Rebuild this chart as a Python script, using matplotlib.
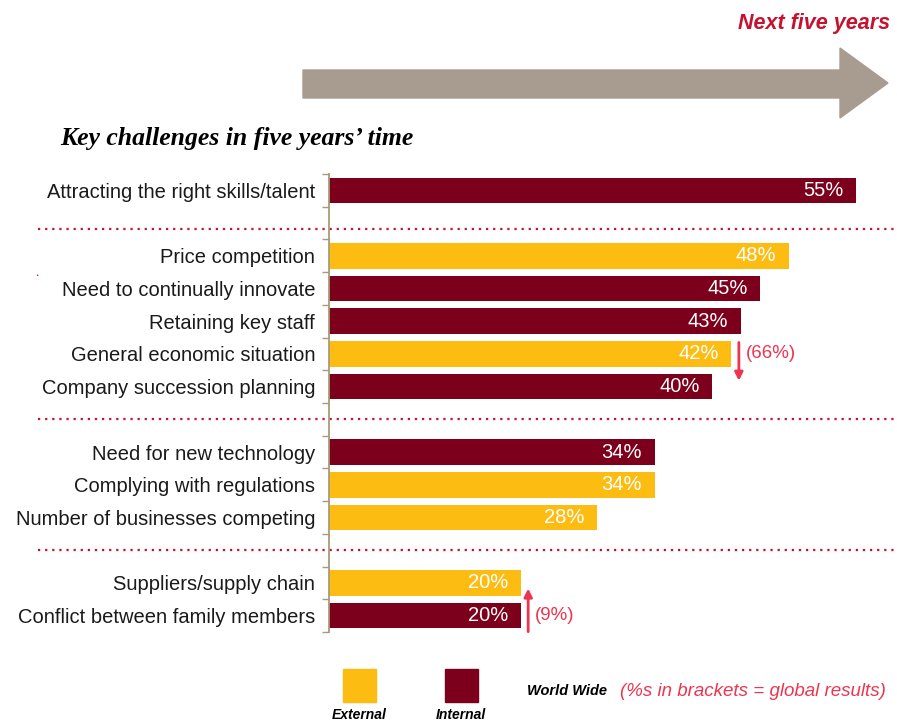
import matplotlib.pyplot as plt
from matplotlib.patches import Polygon, Rectangle

# ======================================================
# DATA
# ======================================================
categories = [
    "Attracting the right skills/talent",
    "Price competition",
    "Need to continually innovate",
    "Retaining key staff",
    "General economic situation",
    "Company succession planning",
    "Need for new technology",
    "Complying with regulations",
    "Number of businesses competing",
    "Suppliers/supply chain",
    "Conflict between family members",
]
values = [55, 48, 45, 43, 42, 40, 34, 34, 28, 20, 20]
kinds = ["Internal", "External", "Internal", "Internal", "External", "Internal",
         "Internal", "External", "External", "External", "Internal"]
group_sizes = [1, 5, 3, 2]

# global results shown in brackets: (row the arrow starts at, row it ends at, label)
global_notes = [
    ("General economic situation", "Company succession planning", "(66%)"),
    ("Conflict between family members", "Suppliers/supply chain", "(9%)"),
]

colors = {"External": "#FDBC12", "Internal": "#7C001B"}
red = "#C4122F"
pink = "#EE3550"

# ======================================================
# ROW POSITIONS (one empty slot between groups)
# ======================================================
positions = []
gaps = []
slot = 0
for g, size in enumerate(group_sizes):
    for i in range(size):
        positions.append(slot)
        slot += 1
    if g < len(group_sizes) - 1:
        gaps.append(slot)
        slot += 1
n_slots = slot
pos_of = dict(zip(categories, positions))

# ======================================================
# FIGURE
# ======================================================
fig = plt.figure(figsize=(8.97, 7.23), dpi=100)
ax = fig.add_axes([329 / 897, 1 - 632 / 723, 565 / 897, 458 / 723])

ax.barh(positions, values, height=0.78,
        color=[colors[k] for k in kinds], zorder=2)

for y, v in zip(positions, values):
    ax.text(v - 1.3, y, f"{v}%", ha="right", va="center",
            color="white", fontsize=14.5, family="Liberation Sans")

ax.set_xlim(0, 59)
ax.set_ylim(n_slots - 0.5, -0.5)

# Labels on the left, small ticks at row boundaries
ax.set_yticks(positions)
ax.set_yticklabels(categories, fontsize=14.5, family="Liberation Sans",
                   color="#1a1a1a")
ax.tick_params(axis="y", which="major", length=0, pad=10)
ax.set_yticks([i - 0.5 for i in range(n_slots + 1)], minor=True)
ax.tick_params(axis="y", which="minor", length=5, width=1, color="#A89A7A")
ax.set_xticks([])

for side in ["top", "right", "bottom"]:
    ax.spines[side].set_visible(False)
ax.spines["left"].set_color("#A89A7A")
ax.spines["left"].set_linewidth(1.3)

# Dotted separators between groups
for g, shift in zip(gaps, [0.17, 0, 0]):
    ax.plot([-30.4, 59], [g + shift, g + shift], color=red, lw=1.6,
            linestyle=(0, (1, 2.2)), clip_on=False, zorder=1)

# Global result arrows
for start, end, label in global_notes:
    y0, y1 = pos_of[start], pos_of[end]
    v = values[categories.index(start)]
    x = v + 0.8
    if y1 > y0:
        ys, ye = y0 - 0.35, y1 - 0.18
    else:
        ys, ye = y0 + 0.49, y1 + 0.17
    ax.annotate("", xy=(x, ye), xytext=(x, ys),
                arrowprops=dict(arrowstyle="-|>", color=pink, lw=2,
                                mutation_scale=12, shrinkA=0, shrinkB=0),
                annotation_clip=False)
    ax.text(x + 0.7, y0, label, ha="left", va="center", color=pink,
            fontsize=13.5, family="Liberation Sans")

# ======================================================
# HEADER
# ======================================================
W, H = 897, 723
arrow_pts = [(303, 70), (840, 70), (840, 48), (888, 83),
             (840, 118), (840, 98), (303, 98)]
fig.patches.append(Polygon([(x / W, 1 - y / H) for x, y in arrow_pts],
                           closed=True, transform=fig.transFigure,
                           color="#A89B90"))

fig.text(890 / W, 1 - 24 / H, "Next five years", ha="right", va="center",
         color=red, fontsize=15.5, fontweight="bold", fontstyle="italic",
         family="Liberation Sans")

fig.text(60 / W, 1 - 139 / H, "Key challenges in five years\u2019 time",
         ha="left", va="center", fontsize=18.5, fontweight="bold",
         fontstyle="italic", family="Liberation Serif")

# stray mark from the original slide
fig.text(37 / W, 1 - 276 / H, "\u2022", ha="center", va="center",
         color=red, fontsize=4)

# ======================================================
# LEGEND
# ======================================================
for kind, x0 in [("External", 343), ("Internal", 445)]:
    fig.patches.append(Rectangle((x0 / W, 1 - 702 / H), 33 / W, 33 / H,
                                 transform=fig.transFigure,
                                 color=colors[kind]))
    fig.text((x0 + 16) / W, 1 - 715 / H, kind, ha="center", va="center",
             fontsize=10, fontweight="bold", fontstyle="italic",
             family="Liberation Sans")

fig.text(527 / W, 1 - 691 / H, "World Wide", ha="left", va="center",
         fontsize=10.5, fontweight="bold", fontstyle="italic",
         family="Liberation Sans")
fig.text(620 / W, 1 - 691 / H, "(%s in brackets = global results)",
         ha="left", va="center", color=pink, fontsize=13.5,
         fontstyle="italic", family="Liberation Sans")

fig.savefig("out.png", dpi=100)
